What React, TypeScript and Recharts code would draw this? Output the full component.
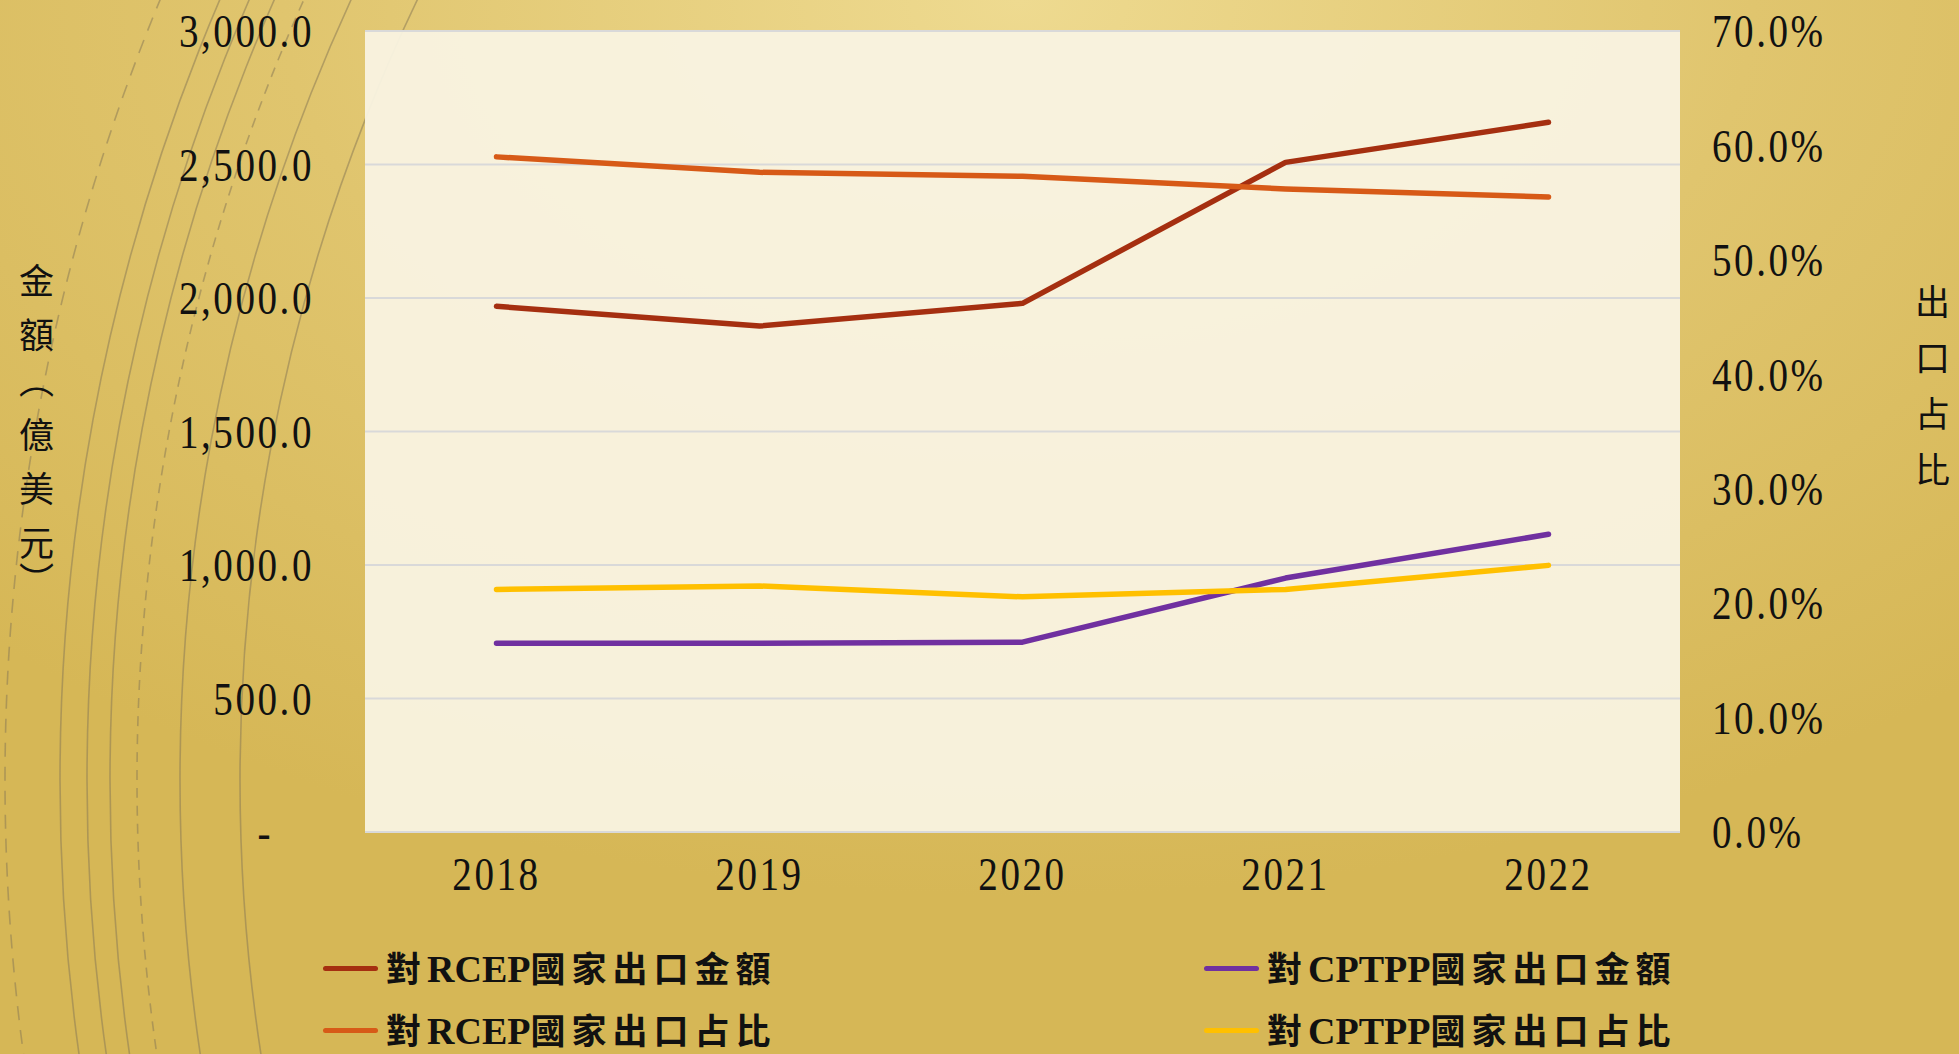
import { LineChart, Line, XAxis, YAxis, CartesianGrid } from "recharts";

// values
const years = ["2018", "2019", "2020", "2021", "2022"];
const rcepAmount = [1969, 1895, 1980, 2508, 2658];
const cptppAmount = [707, 707, 711, 951, 1115];
const rcepShare = [59.0, 57.65, 57.3, 56.2, 55.5];
const cptppShare = [21.2, 21.5, 20.55, 21.2, 23.3];

const leftTicks = [0, 500, 1000, 1500, 2000, 2500, 3000];
const rightTicks = [0, 10, 20, 30, 40, 50, 60, 70];

const series = [
  { key: "rcepAmount", name: "對RCEP國家出口金額", color: "#A52F10", axis: "left" },
  { key: "cptppAmount", name: "對CPTPP國家出口金額", color: "#7030A0", axis: "left" },
  { key: "rcepShare", name: "對RCEP國家出口占比", color: "#D75A17", axis: "right" },
  { key: "cptppShare", name: "對CPTPP國家出口占比", color: "#FFC000", axis: "right" },
];

const leftTitle = "金額（億美元）";
const rightTitle = "出口占比";

const W = 1959;
const H = 1054;

// decorative arcs in the background (left-hand side)
const arcLefts = [5, 60, 87, 110, 137, 180, 240];
const arcDash = ["14 10", "", "", "", "10 8", "", ""];

function ScaledTick(props: any) {
  const { x, y, textAnchor, text, dy, dx = 0 } = props;
  return (
    <g transform={`translate(${x + dx},${y}) scale(0.85,1)`}>
      <text
        x={0}
        y={0}
        dy={dy}
        textAnchor={textAnchor}
        fontFamily="'Liberation Serif', serif"
        fontSize={46}
        letterSpacing={3}
        fill="#111"
      >
        {text}
      </text>
    </g>
  );
}

const fmtLeft = (v: number) =>
  v === 0 ? "-" : v.toLocaleString("en-US", { minimumFractionDigits: 1, maximumFractionDigits: 1 });
const fmtRight = (v: number) => `${v.toFixed(1)}%`;

// split a legend name into latin / CJK runs so only CJK gets wide spacing
function LegendName({ name }: { name: string }) {
  const runs = name.match(/[A-Za-z]+|[^A-Za-z]+/g) || [];
  return (
    <>
      {runs.map((r, i) =>
        /[A-Za-z]/.test(r) ? (
          <span
            key={i}
            style={{ fontFamily: "'Liberation Serif', serif", fontSize: 38, fontWeight: 700, letterSpacing: 0 }}
          >
            {r}
          </span>
        ) : (
          <span key={i} style={{ letterSpacing: 6 }}>
            {r}
          </span>
        ),
      )}
    </>
  );
}

function VerticalTitle({ text, left, top, gaps }: { text: string; left: number; top: number; gaps: number[] }) {
  return (
    <div
      style={{
        position: "absolute",
        left,
        top,
        writingMode: "vertical-rl",
        fontFamily: "'Noto Sans CJK TC', sans-serif",
        fontSize: 35,
        color: "#111",
        lineHeight: 1,
      }}
    >
      {Array.from(text).map((ch, i) => (
        <span key={i} style={{ letterSpacing: gaps[i] ?? 20 }}>
          {ch}
        </span>
      ))}
    </div>
  );
}

export default function App() {
  const data = years.map((year, i) => ({
    year,
    rcepAmount: rcepAmount[i],
    cptppAmount: cptppAmount[i],
    rcepShare: rcepShare[i],
    cptppShare: cptppShare[i],
  }));

  const cx = 2045;
  const cy = 780;

  return (
    <div
      style={{
        position: "absolute",
        left: 0,
        top: 0,
        width: W,
        height: H,
        overflow: "hidden",
        background:
          "radial-gradient(ellipse 75% 85% at 52% 0%, #EEDA90 0%, #E0C56E 50%, #D6B756 100%)",
      }}
    >
      <svg width={W} height={H} style={{ position: "absolute", left: 0, top: 0 }}>
        {arcLefts.map((xl, i) => (
          <circle
            key={i}
            cx={cx}
            cy={cy}
            r={cx - xl}
            fill="none"
            stroke="#8C7B55"
            strokeOpacity={0.55}
            strokeWidth={1.6}
            strokeDasharray={arcDash[i] || undefined}
          />
        ))}
      </svg>

      <div style={{ position: "absolute", left: 0, top: 0 }}>
        <LineChart width={W} height={H} data={data} margin={{ top: 31, right: 0, bottom: 0, left: 0 }}>
          <CartesianGrid
            yAxisId="left"
            vertical={false}
            stroke="#D9D9D9"
            strokeWidth={2}
            fill="#F9F3E2"
            fillOpacity={0.95}
          />
          <XAxis
            dataKey="year"
            height={222}
            axisLine={false}
            tickLine={false}
            tickSize={0}
            tickMargin={25}
            padding={{ left: 131.5, right: 131.5 }}
            tick={(p: any) => <ScaledTick {...p} text={p.payload.value} dy="0.71em" />}
          />
          <YAxis
            yAxisId="left"
            width={365}
            domain={[0, 3000]}
            ticks={leftTicks}
            axisLine={false}
            tickLine={false}
            tickSize={0}
            tickMargin={51}
            tick={(p: any) => (
              <ScaledTick
                {...p}
                text={fmtLeft(p.payload.value)}
                dx={p.payload.value === 0 ? -41 : 0}
                dy="0.355em"
              />
            )}
          />
          <YAxis
            yAxisId="right"
            orientation="right"
            width={279}
            domain={[0, 70]}
            ticks={rightTicks}
            axisLine={false}
            tickLine={false}
            tickSize={0}
            tickMargin={32}
            tick={(p: any) => <ScaledTick {...p} text={fmtRight(p.payload.value)} dy="0.355em" />}
          />
          {series.map((s) => (
            <Line
              key={s.key}
              yAxisId={s.axis}
              type="linear"
              dataKey={s.key}
              name={s.name}
              stroke={s.color}
              strokeWidth={5.5}
              strokeLinecap="round"
              strokeLinejoin="round"
              dot={false}
              activeDot={false}
              isAnimationActive={false}
            />
          ))}
        </LineChart>
      </div>

      {/* axis titles */}
      <VerticalTitle text={leftTitle} left={19} top={263} gaps={[19, 11, 19, 19, 19, 2, 0]} />
      <VerticalTitle text={rightTitle} left={1915} top={284} gaps={[21, 21, 21, 0]} />

      {/* legend, two columns */}
      <div
        style={{
          position: "absolute",
          left: 323,
          top: 946,
          display: "grid",
          gridTemplateColumns: "881px auto",
          rowGap: 18,
          fontFamily: "'Noto Sans CJK TC', sans-serif",
          fontSize: 35,
          fontWeight: 700,
          color: "#111",
        }}
      >
        {series.map((s) => (
          <div key={s.key} style={{ display: "flex", alignItems: "center", height: 44, whiteSpace: "nowrap" }}>
            <span
              style={{
                display: "inline-block",
                width: 55,
                height: 5,
                borderRadius: 3,
                background: s.color,
                marginRight: 8,
              }}
            />
            <span style={{ lineHeight: 1 }}>
              <LegendName name={s.name} />
            </span>
          </div>
        ))}
      </div>
    </div>
  );
}
